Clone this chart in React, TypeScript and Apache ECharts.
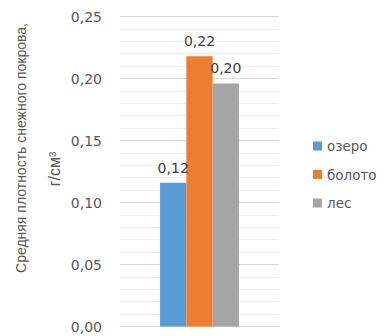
import React, { useEffect, useRef } from "react";
import * as echarts from "echarts";

// Average snow cover density by site type, g/cm³
const categories = ["Плотность"];
const seriesNames = ["озеро", "болото", "лес"];
const seriesValues = [0.116, 0.218, 0.196];
const seriesColors = ["#5B9BD5", "#ED7D31", "#A5A5A5"];
const yTicks = [0, 0.05, 0.1, 0.15, 0.2, 0.25];

const fmt = (v: number) => v.toFixed(2).replace(".", ",");

export default function App() {
  const ref = useRef<HTMLDivElement>(null);

  useEffect(() => {
    if (!ref.current) return;
    const chart = echarts.init(ref.current, undefined, { renderer: "svg" });
    const font = "DejaVu Sans";
    const titleFamily = '"Liberation Sans Narrow", "Liberation Sans", sans-serif';
    chart.setOption({
      animation: false,
      backgroundColor: "#ffffff",
      grid: { left: 120, right: 110, top: 16.5, bottom: 9.5, containLabel: false },
      legend: {
        orient: "vertical",
        left: 308,
        top: 134,
        itemWidth: 9,
        itemHeight: 9,
        itemGap: 14.5,
        icon: "rect",
        data: seriesNames,
        textStyle: { color: "#595959", fontSize: 13.5, fontFamily: font },
      },
      xAxis: {
        type: "category",
        data: categories,
        axisLine: { show: true, lineStyle: { color: "#d9d9d9", width: 1 } },
        axisTick: { show: false },
        axisLabel: { show: false },
      },
      yAxis: {
        type: "value",
        min: yTicks[0],
        max: yTicks[yTicks.length - 1],
        interval: 0.05,
        axisLine: { show: false },
        axisTick: { show: false },
        axisLabel: {
          color: "#595959",
          fontSize: 14,
          fontFamily: font,
          margin: 18,
          formatter: (v: number) => fmt(v),
        },
        splitLine: { show: true, lineStyle: { color: "#d9d9d9", width: 1 } },
        minorTick: { show: false, splitNumber: 5 },
        minorSplitLine: { show: true, lineStyle: { color: "#f0f0f0", width: 1 } },
      },
      graphic: [
        {
          type: "text",
          x: 21,
          y: 148,
          rotation: Math.PI / 2,
          style: {
            text: "Средняя плотность снежного покрова,",
            fill: "#595959",
            font: "14px " + titleFamily,
            align: "center",
            verticalAlign: "middle",
          },
        },
        {
          type: "text",
          x: 54,
          y: 169,
          rotation: Math.PI / 2,
          style: {
            text: "г/см³",
            fill: "#595959",
            font: "16px " + titleFamily,
            align: "center",
            verticalAlign: "middle",
          },
        },
      ],
      series: seriesNames.map((name, i) => ({
        name,
        type: "bar",
        data: [seriesValues[i]],
        barWidth: 26.3,
        barGap: "0%",
        itemStyle: { color: seriesColors[i] },
        label: {
          show: true,
          position: "top",
          distance: 8,
          color: "#404040",
          fontSize: 14,
          fontFamily: font,
          formatter: (p: any) => fmt(p.value),
        },
      })),
    });
    return () => chart.dispose();
  }, []);

  return (
    <div
      ref={ref}
      style={{ position: "fixed", left: 0, top: 0, width: 389, height: 336 }}
    />
  );
}
